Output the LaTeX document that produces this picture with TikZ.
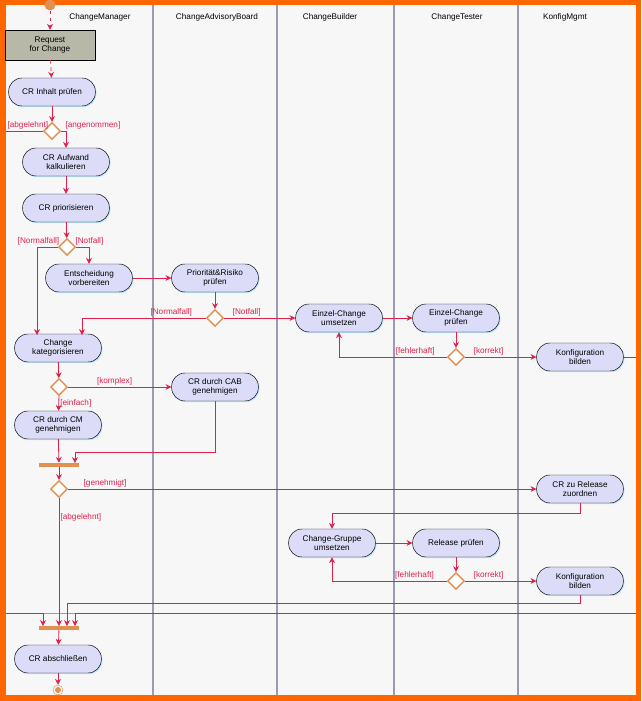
\documentclass[tikz,border=0pt]{standalone}
\usepackage{fontspec}
\setmainfont{Liberation Sans}
\usetikzlibrary{arrows.meta,shadows,shapes.geometric}
\definecolor{flowred}{HTML}{E0204A}
\definecolor{actfill}{HTML}{DCDCF8}
\definecolor{diaorange}{HTML}{E09050}
\definecolor{framecol}{HTML}{FF6600}
\definecolor{lanecol}{HTML}{9A9AB0}
\definecolor{reqfill}{HTML}{B8B8A8}
\tikzset{
  activity/.style={draw=black,fill=actfill,rectangle,rounded corners=0.4cm,minimum width=2.6cm,minimum height=0.84cm,align=center,inner sep=1pt,font=\fontsize{7}{7.5}\selectfont,drop shadow={fill=cyan!25,opacity=1,shadow xshift=1pt,shadow yshift=-1pt}},
  choice/.style={draw=diaorange,line width=1.2pt,fill=white,diamond,minimum size=0.5cm,inner sep=0pt},
  syncbar/.style={fill=diaorange,minimum width=1.2cm,minimum height=0.12cm,inner sep=0pt},
  flow/.style={draw=flowred,line width=0.7pt,-{Stealth[length=5pt,width=5pt]}},
  guard/.style={text=flowred,font=\fontsize{7}{7.5}\selectfont,inner sep=1pt},
  lane/.style={font=\fontsize{7}{7.5}\selectfont}
}
\begin{document}
\begin{tikzpicture}[x=0.03cm,y=-0.03cm]
\useasboundingbox (0,0) rectangle (641,701);
\fill[framecol] (0,0) rectangle (641,701);
\fill[white!97!black] (6,5) rectangle (636,695);
% swimlanes
\foreach \lx in {153,277,394,518}
  \draw[lanecol,line width=1.5pt] (\lx,5) -- (\lx,695);
\draw[lanecol,line width=0.8pt] (6,613) -- (636,613);
\node[lane] at (100,17) {ChangeManager};
\node[lane] at (217,17) {ChangeAdvisoryBoard};
\node[lane] at (330,17) {ChangeBuilder};
\node[lane] at (457,17) {ChangeTester};
\node[lane] at (565,17) {KonfigMgmt};
% nodes
\node[fill=diaorange,circle,minimum size=0.3cm] (start) at (50,5) {};
\node[draw=black,fill=reqfill,minimum width=2.7cm,minimum height=0.9cm,align=center,inner sep=1pt,font=\fontsize{7}{7.5}\selectfont,drop shadow={fill=cyan!25,opacity=1,shadow xshift=1pt,shadow yshift=-1pt}] (rfc) at (50,45) {Request\\for Change};
\node[activity] (inhalt) at (52,92) {CR Inhalt prüfen};
\node[choice] (d1) at (52,131) {};
\node[activity] (aufwand) at (66,162) {CR Aufwand\\kalkulieren};
\node[activity] (prio) at (66,208) {CR priorisieren};
\node[choice] (d2) at (67,247) {};
\node[activity] (entsch) at (89,278) {Entscheidung\\vorbereiten};
\node[activity] (risiko) at (215,278) {Priorität\&Risiko\\prüfen};
\node[choice] (d3) at (215,318) {};
\node[activity] (einzelum) at (339,318) {Einzel-Change\\umsetzen};
\node[activity] (einzelpr) at (456,318) {Einzel-Change\\prüfen};
\node[choice] (d4) at (456,357) {};
\node[activity] (konfig) at (580,357) {Konfiguration\\bilden};
\node[activity] (kat) at (58,348) {Change\\kategorisieren};
\node[choice] (d5) at (59,387) {};
\node[activity] (cab) at (215,387) {CR durch CAB\\genehmigen};
\node[activity] (cm) at (58,425) {CR durch CM\\genehmigen};
\node[syncbar] (bar1) at (59,465) {};
\node[choice] (d6) at (59,489) {};
\node[activity] (zuord) at (580,489) {CR zu Release\\zuordnen};
\node[activity] (gruppe) at (332,543) {Change-Gruppe\\umsetzen};
\node[activity] (release) at (456,543) {Release prüfen};
\node[choice] (d7) at (456,581) {};
\node[activity] (konfigb) at (580,581) {Konfiguration\\bilden};
\node[syncbar] (bar2) at (59,628) {};
\node[activity] (ende) at (58,659) {CR abschließen};
\node[draw=diaorange,circle,minimum size=0.3cm,inner sep=0pt,fill=white] (stop) at (58,690) {};
\fill[diaorange] (stop) circle (0.09cm);
\coordinate (leftin) at (6,613);
\coordinate (rightin) at (636,613);
% connectors
\draw[flow,dashed] (start) -- (rfc);
\draw[flow,dashed] (rfc) -- (inhalt);
\draw[flow] (inhalt) -- (d1);
\draw[flow,-] (d1.west) -- (6,131) node[guard,above right] {[abgelehnt]};
\draw[flow] (d1.east) -| (aufwand.north) node[guard,pos=0.3,above right] {[angenommen]};
\draw[flow] (aufwand) -- (prio);
\draw[flow] (prio) -- (d2);
\draw[flow] (d2.west) -| (37,335) node[guard,pos=0.1,above left,xshift=6pt] {[Normalfall]};
\draw[flow] (d2.east) -| (entsch.north) node[guard,pos=0.1,above right,xshift=-4pt] {[Notfall]};
\draw[flow] (entsch) -- (risiko);
\draw[flow] (risiko) -- (d3);
\draw[flow] (d3.west) -| (82,335) node[guard,pos=0.05,above left] {[Normalfall]};
\draw[flow] (d3.east) -- (einzelum) node[guard,pos=0.1,above right] {[Notfall]};
\draw[flow] (einzelum) -- (einzelpr);
\draw[flow] (einzelpr) -- (d4);
\draw[flow] (d4.west) -| (einzelum.south) node[guard,pos=0.05,above left] {[fehlerhaft]};
\draw[flow] (d4.east) -- (konfig) node[guard,pos=0.1,above right] {[korrekt]};
\draw[flow,-] (konfig.east) -- (636,357);
\draw[flow] (kat) -- (d5);
\draw[flow] (d5.east) -- (cab) node[guard,pos=0.45,above] {[komplex]};
\draw[flow] (d5.south) -- (cm) node[guard,midway,right] {[einfach]};
\draw[flow] (cm) -- (bar1);
\draw[flow] (cab.south) |- (75,452) -- (75,463);
\draw[flow] (bar1) -- (d6);
\draw[flow] (d6.east) -- (zuord) node[guard,pos=0.03,above right] {[genehmigt]};
\draw[flow] (d6.south) -- (59,626) node[guard,pos=0.15,right] {[abgelehnt]};
\draw[flow] (zuord.south) |- (332,513) -- (gruppe.north);
\draw[flow] (gruppe) -- (release);
\draw[flow] (release) -- (d7);
\draw[flow] (d7.west) -| (gruppe.south) node[guard,pos=0.05,above left] {[fehlerhaft]};
\draw[flow] (d7.east) -- (konfigb) node[guard,pos=0.1,above right] {[korrekt]};
\draw[flow] (konfigb.south) |- (67,603) -- (67,626);
\draw[flow] (leftin) -| (43,626);
\draw[flow] (rightin) -| (75,626);
\draw[flow] (bar2) -- (ende);
\draw[flow] (ende) -- (stop);
\end{tikzpicture}
\end{document}
